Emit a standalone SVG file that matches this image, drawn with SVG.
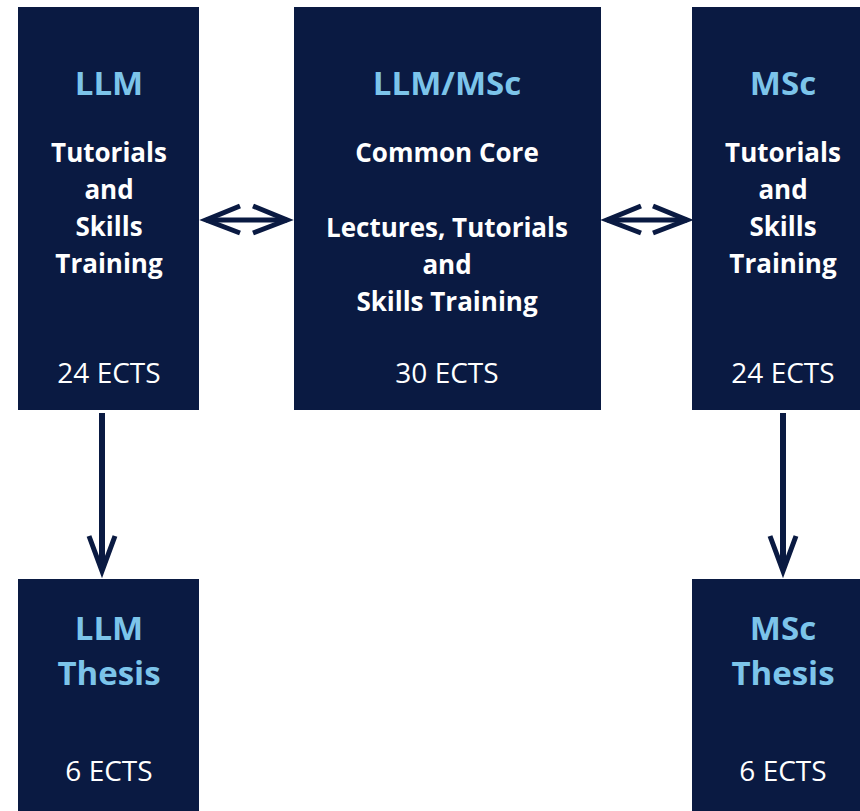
<svg xmlns="http://www.w3.org/2000/svg" width="860" height="811" viewBox="0 0 860 811">
<style>
.box{fill:#0a1a42}
.t{font-family:"Open Sans","Liberation Sans",sans-serif;text-anchor:middle}
.h{fill:#7cc4ea;font-weight:700;font-size:33px}
.w{fill:#ffffff;font-weight:700;font-size:26px}
.e{fill:#ffffff;font-weight:400;font-size:28px}
.ln{stroke:#0a1a42;stroke-width:6;fill:none}
.hd{stroke:#0a1a42;stroke-width:5;fill:none;stroke-linejoin:miter}
</style>
<rect width="860" height="811" fill="#ffffff"/>
<g id="llm">
<rect class="box" x="18" y="7" width="181" height="403"/>
<text class="t h" x="109" y="95">LLM</text>
<text class="t w" x="109" y="162">Tutorials</text>
<text class="t w" x="109" y="199">and</text>
<text class="t w" x="109" y="236">Skills</text>
<text class="t w" x="109" y="273">Training</text>
<text class="t e" x="109" y="383">24 ECTS</text>
</g>
<g id="core">
<rect class="box" x="294" y="7" width="307" height="403"/>
<text class="t h" x="447" y="95">LLM/MSc</text>
<text class="t w" x="447" y="162">Common Core</text>
<text class="t w" x="447" y="237">Lectures, Tutorials</text>
<text class="t w" x="447" y="274">and</text>
<text class="t w" x="447" y="311">Skills Training</text>
<text class="t e" x="447" y="383">30 ECTS</text>
</g>
<g id="msc">
<rect class="box" x="692" y="7" width="182" height="403"/>
<text class="t h" x="783" y="95">MSc</text>
<text class="t w" x="783" y="162">Tutorials</text>
<text class="t w" x="783" y="199">and</text>
<text class="t w" x="783" y="236">Skills</text>
<text class="t w" x="783" y="273">Training</text>
<text class="t e" x="783" y="383">24 ECTS</text>
</g>
<g id="llm-thesis">
<rect class="box" x="18" y="579" width="181" height="240"/>
<text class="t h" x="109" y="640">LLM</text>
<text class="t h" x="109" y="685">Thesis</text>
<text class="t e" x="109" y="781">6 ECTS</text>
</g>
<g id="msc-thesis">
<rect class="box" x="692" y="579" width="182" height="240"/>
<text class="t h" x="783" y="640">MSc</text>
<text class="t h" x="783" y="685">Thesis</text>
<text class="t e" x="783" y="781">6 ECTS</text>
</g>
<g id="connectors">
<line class="ln" x1="206" y1="220" x2="287" y2="220" style="stroke-width:5"/>
<polyline class="hd" points="240,206 206,220 240,233"/>
<polyline class="hd" points="253,206 287,220 253,233"/>
<line class="ln" x1="607" y1="220" x2="687" y2="220" style="stroke-width:5"/>
<polyline class="hd" points="641,206 607,220 641,233"/>
<polyline class="hd" points="653,206 687,220 653,233"/>
<line class="ln" x1="102" y1="413" x2="102" y2="570"/>
<polyline class="hd" points="89,536 102,571 115,536"/>
<line class="ln" x1="783" y1="413" x2="783" y2="570"/>
<polyline class="hd" points="770,536 783,571 796,536"/>
</g>
</svg>
